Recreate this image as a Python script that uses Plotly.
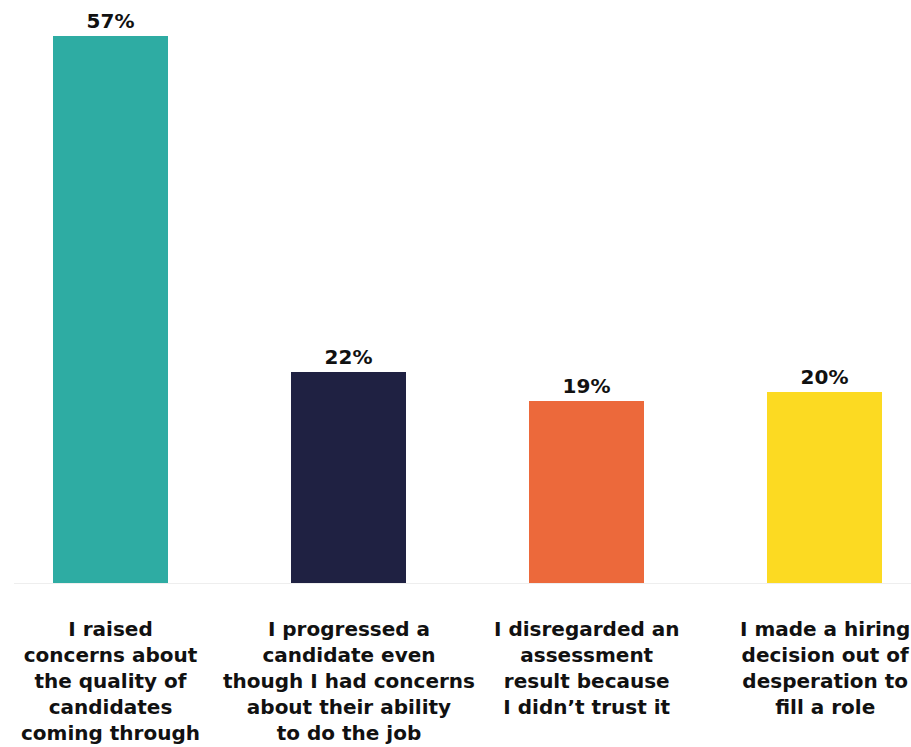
import plotly.graph_objects as go

categories = [
    "I raised<br>concerns about<br>the quality of<br>candidates<br>coming through",
    "I progressed a<br>candidate even<br>though I had concerns<br>about their ability<br>to do the job",
    "I disregarded an<br>assessment<br>result because<br>I didn’t trust it",
    "I made a hiring<br>decision out of<br>desperation to<br>fill a role",
]
values = [57, 22, 19, 20]
colors = ["#2EACA3", "#1F2142", "#EC693B", "#FCDA22"]

FONT = "DejaVu Sans"
positions = list(range(len(categories)))

fig = go.Figure(
    go.Bar(
        x=positions,
        y=values,
        width=0.483,
        marker=dict(color=colors, line=dict(width=0)),
        text=[f"{v}%" for v in values],
        textposition="outside",
        textfont=dict(family=FONT, size=20, color="#111111", weight=700),
        cliponaxis=False,
        hoverinfo="skip",
    )
)

# category captions beneath each bar
for i, label in enumerate(categories):
    fig.add_annotation(
        x=i, y=0, xref="x", yref="y",
        text=label, showarrow=False,
        xanchor="center", yanchor="top", yshift=-31,
        align="center",
        font=dict(family=FONT, size=20, color="#111111", weight=700),
    )

# light baseline
fig.add_shape(
    type="line", xref="paper", yref="y",
    x0=14 / 911, x1=1, y0=0, y1=0,
    line=dict(color="#EEEEEE", width=2),
)

fig.update_layout(
    width=911, height=747,
    margin=dict(l=0, r=0, t=7, b=163),
    paper_bgcolor="white", plot_bgcolor="white",
    showlegend=False,
    bargap=0,
    xaxis=dict(range=[-0.4643, 3.3634], showticklabels=False, showgrid=False,
               zeroline=False, showline=False, ticks=""),
    yaxis=dict(range=[0, 60], showticklabels=False, showgrid=False,
               zeroline=False, showline=False, ticks=""),
)

fig.write_html("out.html")
